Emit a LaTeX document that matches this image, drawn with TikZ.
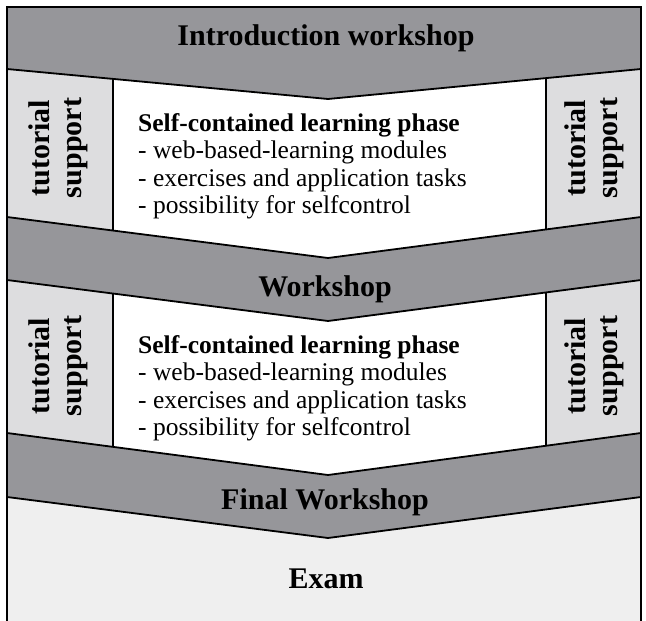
\documentclass[tikz,border=0pt]{standalone}
\usepackage{fontspec}
\setmainfont{Liberation Serif}
\usepackage{tikz}
\usetikzlibrary{positioning,calc}
\definecolor{bandgray}{RGB}{150,150,154}
\definecolor{tutorgray}{RGB}{221,221,223}
\definecolor{examgray}{RGB}{239,239,239}
\tikzset{
  edge/.style={line width=1.8pt,line join=miter},
  bandtitle/.style={font=\fontsize{30}{33}\selectfont\bfseries,inner sep=0pt},
  tutortext/.style={rotate=90,align=center,inner sep=0pt,
    font=\fontsize{30}{32}\selectfont\bfseries},
  phasetext/.style={anchor=north west,align=left,inner sep=0pt,
    font=\fontsize{25.5}{27.5}\selectfont},
}
\newcommand{\chevronBand}[4]{%
  % #1 y of the upper edge at the sides
  % #2 y of the upper edge at the tip
  % #3 y of the lower edge at the sides
  % #4 y of the lower edge at the tip
  \fill[bandgray] (7,#1) -- (328,#2) -- (641,#1) -- (641,#3) -- (328,#4) -- (7,#3) -- cycle;
  \draw[edge] (7,#1) -- (328,#2) -- (641,#1);
  \draw[edge] (7,#3) -- (328,#4) -- (641,#3);
}
\newcommand{\phaseList}{%
  \textbf{Self-contained learning phase}\\
  - web-based-learning modules\\
  - exercises and application tasks\\
  - possibility for selfcontrol%
}
\begin{document}
\begin{tikzpicture}[x=1pt,y=-1pt]
  \useasboundingbox (0,0) rectangle (646,621);
  % the two learning phases and the exam
  \foreach \top/\bot in {60/275,270/490}{
    \fill[tutorgray] (7,\top) rectangle (113,\bot);
    \fill[white] (113,\top) rectangle (546,\bot);
    \fill[tutorgray] (546,\top) rectangle (641,\bot);
    \draw[edge] (113,\top) -- (113,\bot);
    \draw[edge] (546,\top) -- (546,\bot);
  }
  \fill[examgray] (7,485) rectangle (641,622);
  % workshops
  \chevronBand{7}{7}{69}{99}
  \chevronBand{217}{258}{280}{321}
  \chevronBand{433}{475}{497}{538}
  \draw[edge] (7,7) rectangle (641,622);
  % texts
  \node[bandtitle] (intro) at (326,38) {Introduction workshop};
  \node[bandtitle] (mid) at (325,289) {Workshop};
  \node[bandtitle] (final) at (325,502) {Final Workshop};
  \node[bandtitle] (exam) at (326,579) {Exam};
  \node[phasetext] (phaseA) at (138,113) {\phaseList};
  \node[phasetext] (phaseB) at (138,335) {\phaseList};
  \node[tutortext] (tutorAL) at (58,148) {tutorial\\support};
  \node[tutortext] (tutorAR) at (594,148) {tutorial\\support};
  \node[tutortext] (tutorBL) at (58,366) {tutorial\\support};
  \node[tutortext] (tutorBR) at (594,366) {tutorial\\support};
\end{tikzpicture}
\end{document}
